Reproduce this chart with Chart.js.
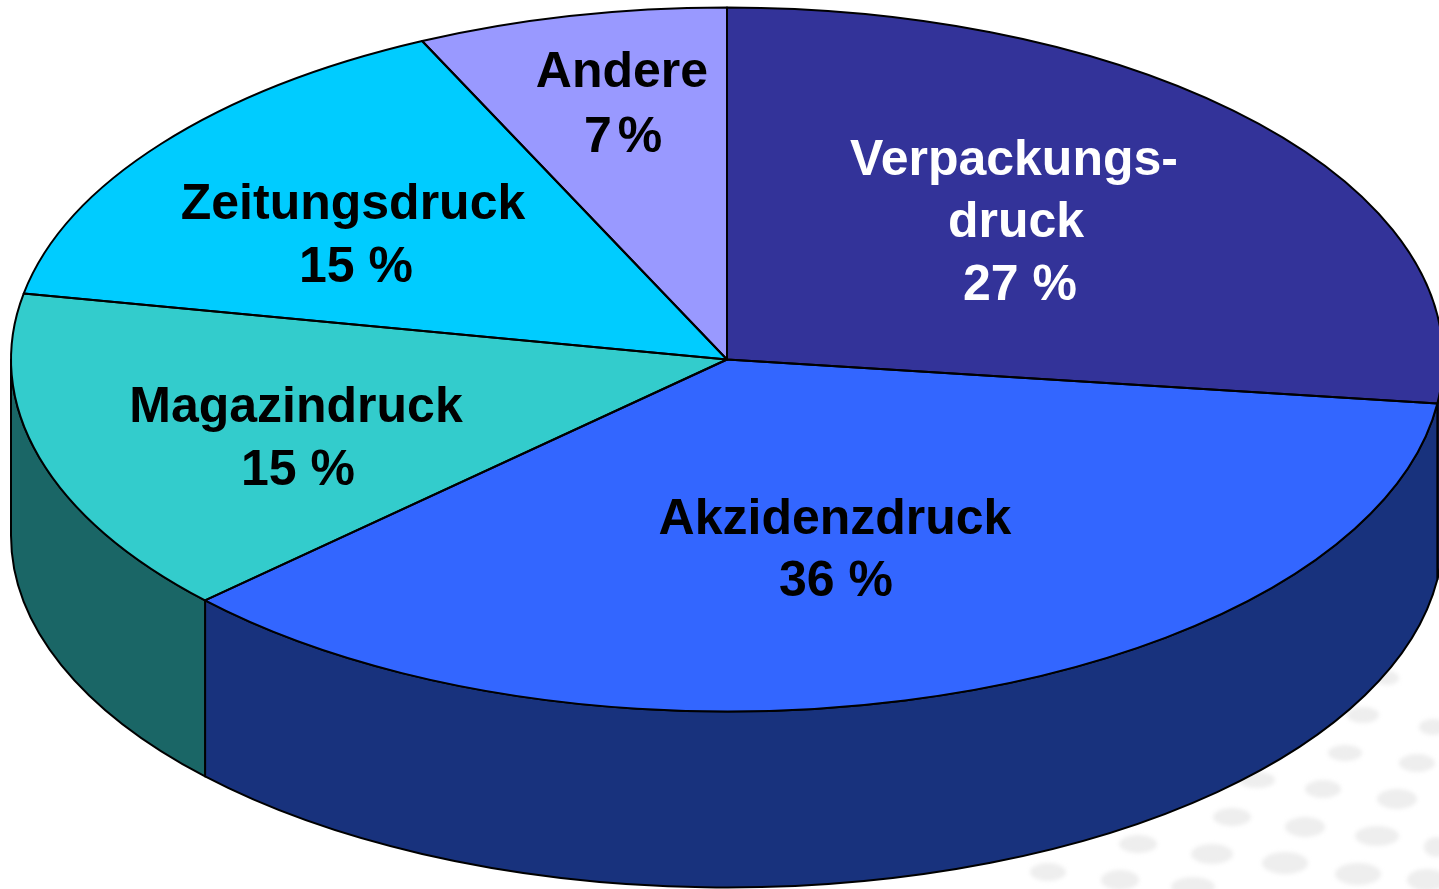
<!DOCTYPE html>
<html lang="de">
<head>
<meta charset="utf-8">
<title>Druckmarkt</title>
<script src="https://cdn.jsdelivr.net/npm/chart.js@4"></script>
<style>
    html, body { margin: 0; padding: 0; background: #fff; overflow: hidden; }
    canvas { display: block; }
</style>
</head>
<body>
<canvas id="pie" width="1439" height="889"></canvas>
<script>
// values, clockwise from 12 o'clock
let categories = ['Verpackungsdruck', 'Akzidenzdruck', 'Magazindruck', 'Zeitungsdruck', 'Andere']
let shares = [27, 36, 15, 15, 7]

let topColors = ['#333399', '#3366ff', '#33cccc', '#00ccff', '#9999ff']
let sideColors = ['#1a1a4d', '#18327d', '#1a6666', '#006680', '#4d4d80']

// text lines: [text, center x, baseline y, colour]
let labelLines = [
    ['Verpackungs-', 1014, 175, '#fff'],
    ['druck', 1016, 237, '#fff'],
    [shares[0] + ' %', 1020, 300, '#fff'],
    ['Akzidenzdruck', 835, 534, '#000'],
    [shares[1] + ' %', 836, 596, '#000'],
    ['Magazindruck', 296, 422, '#000'],
    [shares[2] + ' %', 298, 485, '#000'],
    ['Zeitungsdruck', 353, 219, '#000'],
    [shares[3] + ' %', 356, 282, '#000'],
    ['Andere', 622, 87, '#000'],
    // narrow gap in the original, so number and sign are placed apart
    [String(shares[4]), 598, 152, '#000'],
    ['%', 640, 152, '#000']
]

// faint grey dots of the slide background, bottom right
let backgroundDots = [
    [1363, 715, 16, 8], [1433, 727, 14, 8], [1345, 753, 17, 8], [1417, 763, 18, 9],
    [1323, 789, 18, 9], [1397, 799, 20, 10], [1257, 780, 18, 8], [1232, 817, 19, 9],
    [1305, 827, 20, 10], [1377, 836, 22, 10], [1138, 844, 19, 9], [1212, 854, 21, 10],
    [1285, 863, 23, 11], [1358, 874, 23, 11], [1048, 872, 18, 9], [1120, 880, 19, 10],
    [1193, 887, 22, 10], [1427, 880, 20, 11], [1436, 847, 12, 10], [1387, 678, 12, 7]
]

const squash = 0.4916  // ellipse ry / rx
const depth = 176      // height of the side wall

let pie3d = {
    id: 'pie3d',
    beforeDatasetsDraw(chart) {
        let ctx = chart.ctx
        // background dots
        ctx.save()
        ctx.fillStyle = '#eeeeee'
        ctx.filter = 'blur(2px)'
        backgroundDots.forEach(d => {
            ctx.beginPath()
            ctx.ellipse(d[0], d[1], d[2], d[3], 0, 0, Math.PI * 2)
            ctx.fill()
        })
        ctx.restore()

        // side wall for the part of each slice on the front half
        ctx.save()
        ctx.strokeStyle = '#000'
        ctx.lineWidth = 2
        ctx.lineJoin = 'round'
        chart.getDatasetMeta(0).data.forEach((arc, i) => {
            let a = Math.max(arc.startAngle, 0)
            let b = Math.min(arc.endAngle, Math.PI)
            if (b <= a) return
            let rx = arc.outerRadius
            let ry = rx * squash
            ctx.beginPath()
            ctx.ellipse(arc.x, arc.y, rx, ry, 0, a, b)
            ctx.ellipse(arc.x, arc.y + depth, rx, ry, 0, b, a, true)
            ctx.closePath()
            ctx.fillStyle = sideColors[i]
            ctx.fill()
            ctx.stroke()
        })
        ctx.restore()

        // flatten the pie into an ellipse
        let first = chart.getDatasetMeta(0).data[0]
        ctx.save()
        ctx.translate(first.x, first.y)
        ctx.scale(1, squash)
        ctx.translate(-first.x, -first.y)
    },
    afterDatasetsDraw(chart) {
        let ctx = chart.ctx
        ctx.restore()

        // outlines, outside the flattening so the line keeps its width
        ctx.save()
        ctx.strokeStyle = '#000'
        ctx.lineWidth = 2
        ctx.lineJoin = 'round'
        chart.getDatasetMeta(0).data.forEach(arc => {
            ctx.beginPath()
            ctx.moveTo(arc.x, arc.y)
            ctx.ellipse(arc.x, arc.y, arc.outerRadius, arc.outerRadius * squash, 0, arc.startAngle, arc.endAngle)
            ctx.closePath()
            ctx.stroke()
        })
        ctx.restore()

        ctx.save()
        ctx.font = 'bold 50px "Liberation Sans", Arial, sans-serif'
        ctx.textAlign = 'center'
        ctx.textBaseline = 'alphabetic'
        labelLines.forEach(l => {
            ctx.fillStyle = l[3]
            ctx.fillText(l[0], l[1], l[2])
        })
        ctx.restore()
    }
}

new Chart(document.getElementById('pie'), {
    type: 'pie',
    data: {
        labels: categories,
        datasets: [{
            data: shares,
            backgroundColor: topColors,
            borderWidth: 0,
            hoverOffset: 0,
            clip: false
        }]
    },
    options: {
        responsive: false,
        animation: false,
        radius: 716,
        layout: { padding: { left: 15, bottom: 170 } },
        plugins: {
            legend: { display: false },
            tooltip: { enabled: false }
        }
    },
    plugins: [pie3d]
})
</script>
</body>
</html>
